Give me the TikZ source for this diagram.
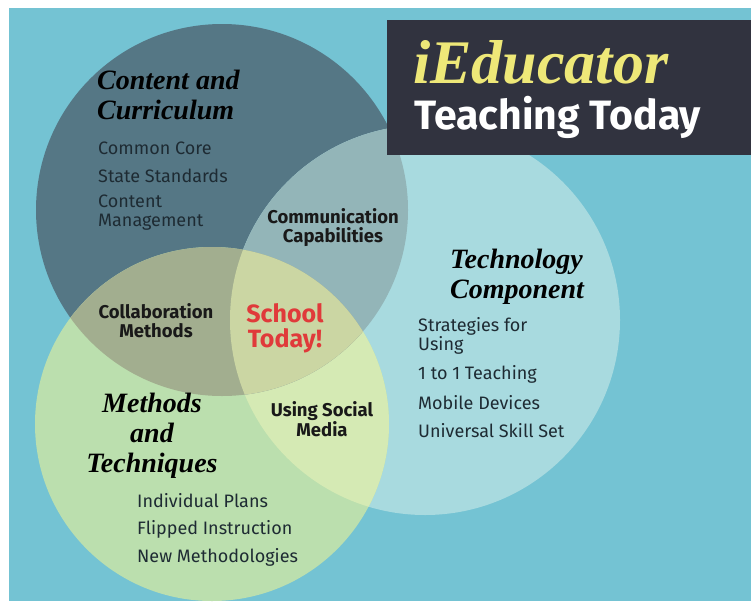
\documentclass[tikz,border=0pt]{standalone}
\usepackage{fontspec}
\setmainfont{Fira Sans}
\newfontfamily\scriptf{Liberation Serif}
\definecolor{bgc}{HTML}{74C3D3}
\definecolor{darkc}{HTML}{557785}
\definecolor{lightc}{HTML}{A8DADF}
\definecolor{greenc}{HTML}{BBDFAE}
\definecolor{dlc}{HTML}{93B5B8}
\definecolor{dgc}{HTML}{A2AE8F}
\definecolor{lgc}{HTML}{D5EAB4}
\definecolor{allc}{HTML}{CBD6A3}
\definecolor{boxc}{HTML}{31333F}
\definecolor{yelc}{HTML}{EEE878}
\definecolor{itemc}{HTML}{1E2B33}
\definecolor{redc}{HTML}{E03A3A}
\tikzset{
  heading/.style={font=\scriptf\bfseries\itshape\fontsize{28}{30}\selectfont, text=black, inner sep=0pt},
  item/.style={font=\fontsize{18}{19}\selectfont, text=itemc, anchor=west, align=left, inner sep=0pt},
  overlap/.style={font=\bfseries\fontsize{18.5}{19}\selectfont, text=black!90, align=center, inner sep=0pt},
}
\begin{document}
\begin{tikzpicture}[x=1pt,y=-1pt]
\useasboundingbox (0,0) rectangle (751,605);
\fill[white] (0,0) rectangle (751,605);
\fill[bgc] (9,8) rectangle (751,601);
% circles
\coordinate (D) at (222,210);
\coordinate (L) at (425,320);
\coordinate (G) at (212,424);
\fill[darkc] (D) circle[radius=186pt];
\fill[lightc] (L) circle[radius=195pt];
\fill[greenc] (G) circle[radius=177pt];
\begin{scope}
  \clip (L) circle[radius=195pt];
  \fill[lgc] (G) circle[radius=177pt];
\end{scope}
\begin{scope}
  \clip (D) circle[radius=186pt];
  \fill[dlc] (L) circle[radius=195pt];
  \fill[dgc] (G) circle[radius=177pt];
  \clip (L) circle[radius=195pt];
  \fill[allc] (G) circle[radius=177pt];
\end{scope}
% title box
\fill[boxc] (387,20) rectangle (751,155);
\node[anchor=base west, inner sep=0pt, text=yelc, font=\scriptf\bfseries\itshape\fontsize{62}{62}\selectfont] (t1) at (413,83) {iEducator};
\node[anchor=base west, inner sep=0pt, text=white, font=\bfseries\fontsize{41}{41}\selectfont] (t2) at (414,129) {Teaching Today};
% content and curriculum
\node[heading, anchor=west, align=left] (h1) at (97,95) {Content and\\Curriculum};
\node[item] (c1) at (98,148) {Common Core};
\node[item] (c2) at (98,176) {State Standards};
\node[item] (c3) at (98,213) {Content\\Management};
% technology
\node[heading, align=left] (h2) at (517,277) {Technology\\Component};
\node[item] (t3) at (418,336) {Strategies for\\Using};
\node[item] (t4) at (418,374) {1 to 1 Teaching};
\node[item] (t5) at (418,403) {Mobile Devices};
\node[item] (t6) at (418,431) {Universal Skill Set};
% methods
\node[heading, align=center] (h3) at (152,436) {Methods\\and\\Techniques};
\node[item] (m1) at (137,501) {Individual Plans};
\node[item] (m2) at (137,529) {Flipped Instruction};
\node[item] (m3) at (137,557) {New Methodologies};
% overlaps
\node[overlap] (o1) at (333,228) {Communication\\Capabilities};
\node[overlap] (o2) at (156,321) {Collaboration\\Methods};
\node[overlap] (o3) at (322,419) {Using Social\\Media};
\node[overlap, text=redc, font=\bfseries\fontsize{25}{25}\selectfont] (o4) at (285,328) {School\\Today!};
\end{tikzpicture}
\end{document}
